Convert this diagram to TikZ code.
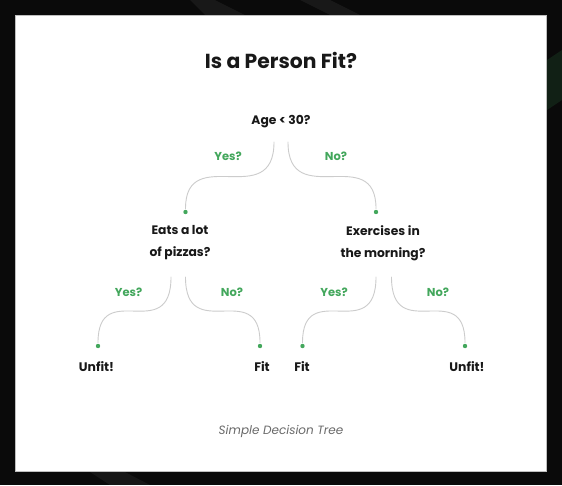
\documentclass[tikz,border=0pt]{standalone}
\usepackage{fontspec}
\setmainfont{Poppins}
\usetikzlibrary{calc}
\definecolor{treeGreen}{RGB}{67,167,92}
\definecolor{branchGray}{RGB}{204,204,204}
\definecolor{inkBlack}{RGB}{24,24,24}
\definecolor{captionGray}{RGB}{105,105,105}
\definecolor{frameDark}{RGB}{10,10,10}
\tikzset{
  question/.style={text=inkBlack,font=\fontsize{12.3}{22}\selectfont\bfseries,align=center,inner sep=0pt},
  answer/.style={text=treeGreen,font=\fontsize{11.5}{14}\selectfont\bfseries,inner sep=0pt},
  leaf/.style={text=inkBlack,font=\fontsize{12.4}{14}\selectfont\bfseries,inner sep=0pt},
  tip/.style={circle,fill=treeGreen,inner sep=0pt,minimum size=4.4pt,outer sep=1.2pt},
  branch/.style={draw=branchGray,line width=0.9pt,line cap=round}
}
\newcommand{\Branch}[2]{%
  \draw[branch] (#1) .. controls (#1|-#2) and (#2|-#1) .. (#2);}

\begin{document}
\begin{tikzpicture}[x=1pt,y=-1pt]
\useasboundingbox (0,0) rectangle (562,485);
% dark backdrop with faint stripes
\fill[frameDark] (0,0) rectangle (562,485);
\fill[white,opacity=0.06] (190,0) -- (215,0) -- (245,15) -- (205,15) -- cycle;
\fill[white,opacity=0.06] (300,0) -- (330,0) -- (360,15) -- (330,15) -- cycle;
\fill[white,opacity=0.05] (90,472) -- (125,472) -- (150,485) -- (110,485) -- cycle;
\fill[treeGreen!60!black,opacity=0.25] (547,60) -- (562,50) -- (562,100) -- (547,110) -- cycle;
\draw[fill=white,draw=black!25,line width=0.8pt] (15,15) rectangle (546,471);

\node[text=inkBlack,font=\fontsize{20.3}{24}\selectfont\bfseries] (title) at (281,60) {Is a Person Fit?};

% questions
\node[question] (age) at (281,122) {Age < 30?};
\node[question] (pizza) at (180,243) {Eats a lot\\of pizzas?};
\node[question] (morning) at (383,243) {Exercises in\\the morning?};

% leaves
\node[leaf] (unfitA) at (96.5,367) {Unfit!};
\node[leaf] (fitA) at (262,367) {Fit};
\node[leaf] (fitB) at (302,367) {Fit};
\node[leaf] (unfitB) at (467,367) {Unfit!};

% branch ends
\coordinate (ageL) at ($(age)+(-7,20)$);
\coordinate (ageR) at ($(age)+(7,20)$);
\coordinate (pizzaL) at ($(pizza)+(-9,34)$);
\coordinate (pizzaR) at ($(pizza)+(5.5,34)$);
\coordinate (morningL) at ($(morning)+(-7,34)$);
\coordinate (morningR) at ($(morning)+(8.5,34)$);
\node[tip] (tipPizza) at (185.5,212) {};
\node[tip] (tipMorning) at (376,212) {};
\node[tip] (tipUnfitA) at (98,346) {};
\node[tip] (tipFitA) at (260,346) {};
\node[tip] (tipFitB) at (302.5,346) {};
\node[tip] (tipUnfitB) at (465,346) {};

\Branch{ageL}{tipPizza}
\Branch{ageR}{tipMorning}
\Branch{pizzaL}{tipUnfitA}
\Branch{pizzaR}{tipFitA}
\Branch{morningL}{tipFitB}
\Branch{morningR}{tipUnfitB}

% answers
\node[answer] (yesAge) at (228,156) {Yes?};
\node[answer] (noAge) at (336,156) {No?};
\node[answer] (yesPizza) at (128.5,292) {Yes?};
\node[answer] (noPizza) at (232,292) {No?};
\node[answer] (yesMorning) at (334,292) {Yes?};
\node[answer] (noMorning) at (438,292) {No?};

\node[text=captionGray,font=\fontsize{12}{14}\selectfont\itshape] (caption) at (281,431.5) {Simple Decision Tree};
\end{tikzpicture}
\end{document}
